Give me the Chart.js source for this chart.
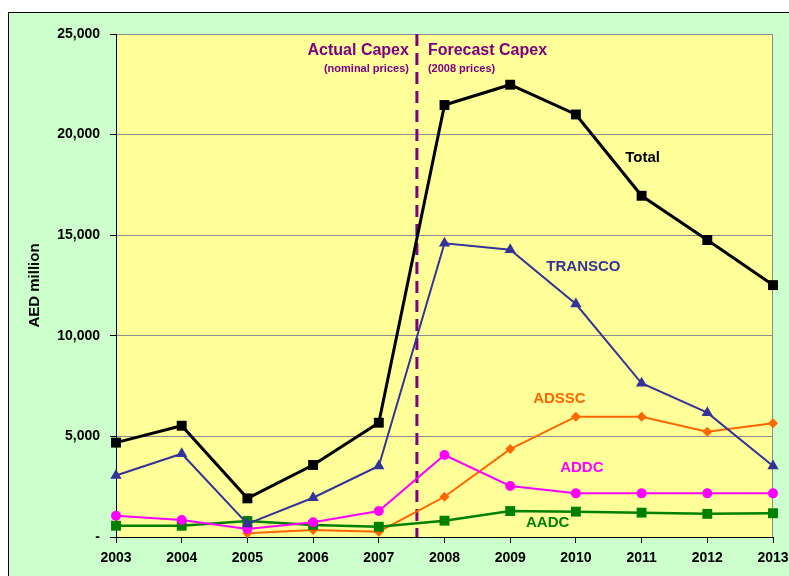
<!DOCTYPE html>
<html>
<head>
<meta charset="utf-8">
<script src="https://cdn.jsdelivr.net/npm/chart.js@4.4.1/dist/chart.umd.min.js"></script>
<style>
  body { margin: 0; background: #fff; }
  #frame {
    position: absolute; left: 8px; top: 12px;
    width: 780px; height: 563px;
    border-left: 1px solid #000; border-top: 1px solid #000;
    background: #ccffcc;
  }
</style>
</head>
<body>
<div id="frame"><canvas id="capexChart"></canvas></div>
<script>
const years = ['2003', '2004', '2005', '2006', '2007', '2008', '2009', '2010', '2011', '2012', '2013'];
const total   = [4690, 5530, 1920, 3580, 5680, 21470, 22480, 21000, 16960, 14760, 12520];
const transco = [3060, 4140, 650, 1950, 3530, 14600, 14280, 11580, 7640, 6180, 3530];
const adssc   = [null, null, 185, 350, 265, 2000, 4370, 5980, 5980, 5235, 5650];
const addc    = [1060, 845, 400, 730, 1290, 4075, 2535, 2170, 2170, 2170, 2170];
const aadc    = [560, 560, 795, 600, 510, 810, 1290, 1260, 1210, 1150, 1180];
const yTicks  = [0, 5000, 10000, 15000, 20000, 25000];

const FONT = 'Arial, "Liberation Sans", sans-serif';

// fond jaune de la zone + ligne pointillée + textes
const decorPlugin = {
    id: 'decor',
    beforeDraw(chart) {
        const { ctx, chartArea: a } = chart;
        ctx.save();
        ctx.fillStyle = '#ffff99';
        ctx.fillRect(a.left, a.top, a.right - a.left, a.bottom - a.top);
        ctx.strokeStyle = '#8c8c8c';
        ctx.lineWidth = 1;
        ctx.strokeRect(a.left + 0.5, a.top + 0.5, a.right - a.left - 1, a.bottom - a.top);
        ctx.restore();
    },
    beforeDatasetsDraw(chart) {
        const { ctx, chartArea: a, scales: { x } } = chart;
        const px = x.getPixelForValue(4.58);
        ctx.save();
        ctx.strokeStyle = '#800080';
        ctx.lineWidth = 3;
        ctx.setLineDash([12, 7]);
        ctx.beginPath();
        ctx.moveTo(px, a.top);
        ctx.lineTo(px, a.bottom);
        ctx.stroke();
        ctx.restore();
    },
    afterDatasetsDraw(chart) {
        const { ctx, scales: { x, y } } = chart;
        const px = x.getPixelForValue(4.58);
        const put = (txt, tx, ty, color, size, align) => {
            ctx.font = 'bold ' + size + 'px ' + FONT;
            ctx.fillStyle = color;
            ctx.textAlign = align;
            ctx.textBaseline = 'middle';
            ctx.fillText(txt, tx, ty);
        };
        ctx.save();
        put('Actual Capex', px - 8, 38, '#800080', 16, 'right');
        put('(nominal prices)', px - 8, 56, '#800080', 11, 'right');
        put('Forecast Capex', px + 11, 38, '#800080', 16, 'left');
        put('(2008 prices)', px + 11, 56, '#800080', 11, 'left');
        put('Total', x.getPixelForValue(7.75), y.getPixelForValue(18850), '#000000', 15, 'left');
        put('TRANSCO', x.getPixelForValue(6.55), y.getPixelForValue(13430), '#333399', 15, 'left');
        put('ADSSC', x.getPixelForValue(6.35), y.getPixelForValue(6860), '#ff6600', 15, 'left');
        put('ADDC', x.getPixelForValue(6.76), y.getPixelForValue(3430), '#ff00ff', 15, 'left');
        put('AADC', x.getPixelForValue(6.24), y.getPixelForValue(710), '#008000', 15, 'left');
        ctx.restore();
    }
};

function serie(label, data, color, width, style, radius) {
    return {
        label: label,
        data: data,
        borderColor: color,
        backgroundColor: color,
        borderWidth: width,
        pointStyle: style,
        pointRadius: radius,
        pointBorderWidth: 0,
        tension: 0,
        clip: false,
        spanGaps: false
    };
}

const capexChart = new Chart(document.getElementById('capexChart'), {
    type: 'line',
    data: {
        labels: years,
        datasets: [
            serie('Total', total, '#000000', 3, 'rect', 7),
            serie('TRANSCO', transco, '#333399', 2, 'triangle', 6.5),
            serie('ADDC', addc, '#ff00ff', 2, 'circle', 5),
            serie('AADC', aadc, '#008000', 2.5, 'rect', 7),
            serie('ADSSC', adssc, '#ff6600', 2, 'rectRot', 5)
        ]
    },
    options: {
        responsive: true,
        maintainAspectRatio: false,
        animation: false,
        layout: { padding: { top: 21, right: 16, left: 0, bottom: 0 } },
        plugins: { legend: { display: false }, tooltip: { enabled: false } },
        scales: {
            x: {
                offset: false,
                grid: { drawOnChartArea: false, tickColor: '#000', tickLength: 6 },
                border: { color: '#000', width: 1 },
                ticks: { color: '#000', padding: 7, maxRotation: 0, autoSkip: false,
                         font: { family: FONT, size: 14, weight: 'bold' } },
                afterFit(scale) {
                    scale.height = 39;
                    scale.paddingLeft = 0;
                    scale.paddingRight = 0;
                }
            },
            y: {
                min: 0,
                max: 25000,
                afterBuildTicks(scale) { scale.ticks = yTicks.map(v => ({ value: v })); },
                grid: { color: '#8c8c8c', tickColor: '#000', tickLength: 6 },
                border: { color: '#000', width: 1 },
                ticks: {
                    color: '#000', padding: 10,
                    font: { family: FONT, size: 14, weight: 'bold' },
                    callback: v => v === 0 ? '-' : v.toLocaleString('en-US')
                },
                title: {
                    display: true, text: 'AED million', color: '#000',
                    font: { family: FONT, size: 15, weight: 'bold' },
                    padding: { top: 17, bottom: 0 }
                },
                afterFit(scale) {
                    scale.width = 107;
                    scale.paddingTop = 0;
                    scale.paddingBottom = 0;
                }
            }
        }
    },
    plugins: [decorPlugin]
});
</script>
</body>
</html>
